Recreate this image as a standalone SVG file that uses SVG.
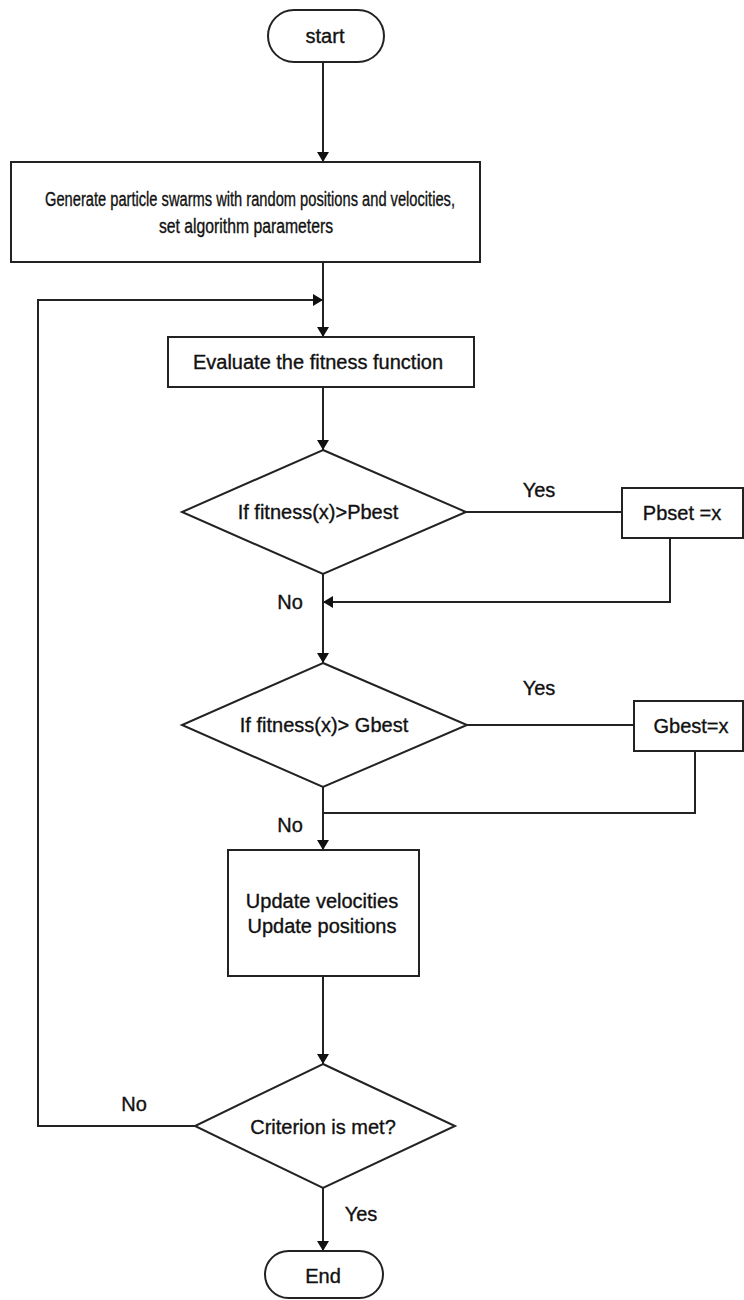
<svg xmlns="http://www.w3.org/2000/svg" width="744" height="1300" viewBox="0 0 744 1300">
<defs>
<marker id="arr" viewBox="0 0 10 12" refX="10" refY="6" markerWidth="10" markerHeight="12" markerUnits="userSpaceOnUse" orient="auto">
<path d="M0,0 L10,6 L0,12 z" fill="#111"/>
</marker>
<style>
.s{fill:#fff;stroke:#222;stroke-width:2}
.c{fill:none;stroke:#222;stroke-width:2}
.t{font-family:"Liberation Sans",Arial,sans-serif;font-size:20px;fill:#111;stroke:#111;stroke-width:0.35;text-anchor:middle;dominant-baseline:central}
</style>
</defs>
<rect width="744" height="1300" fill="#fff"/>
<g id="connectors">
<line class="c" x1="323" y1="62" x2="323" y2="162" marker-end="url(#arr)"/>
<line class="c" x1="323" y1="262" x2="323" y2="337" marker-end="url(#arr)"/>
<polyline class="c" points="195,1126 38,1126 38,300 323,300" marker-end="url(#arr)"/>
<line class="c" x1="323" y1="387" x2="323" y2="450" marker-end="url(#arr)"/>
<line class="c" x1="466" y1="512" x2="622" y2="512"/>
<polyline class="c" points="670,538 670,602 323,602" marker-end="url(#arr)"/>
<line class="c" x1="323" y1="574" x2="323" y2="663" marker-end="url(#arr)"/>
<line class="c" x1="467" y1="725" x2="634" y2="725"/>
<polyline class="c" points="695,751 695,813 323,813"/>
<line class="c" x1="323" y1="787" x2="323" y2="850" marker-end="url(#arr)"/>
<line class="c" x1="323" y1="976" x2="323" y2="1064" marker-end="url(#arr)"/>
<line class="c" x1="323" y1="1188" x2="323" y2="1251" marker-end="url(#arr)"/>
<text class="t" x="539" y="490">Yes</text>
<text class="t" x="290" y="602">No</text>
<text class="t" x="539" y="688">Yes</text>
<text class="t" x="290" y="825">No</text>
<text class="t" x="134" y="1104">No</text>
<text class="t" x="361" y="1214">Yes</text>
</g>
<g id="start">
<rect class="s" x="268" y="10" width="116" height="52" rx="26"/>
<text class="t" x="325" y="36">start</text>
</g>
<g id="init">
<rect class="s" x="11" y="162" width="469" height="100"/>
<text class="t" x="250" y="199" textLength="410" lengthAdjust="spacingAndGlyphs">Generate particle swarms with random positions and velocities,</text>
<text class="t" x="246" y="226" textLength="174" lengthAdjust="spacingAndGlyphs">set algorithm parameters</text>
</g>
<g id="evaluate">
<rect class="s" x="168" y="337" width="306" height="50"/>
<text class="t" x="318" y="362">Evaluate the fitness function</text>
</g>
<g id="pbest-check">
<polygon class="s" points="323,450 466,512 323,574 182,512"/>
<text class="t" x="318" y="512">If fitness(x)&gt;Pbest</text>
</g>
<g id="pbest-set">
<rect class="s" x="622" y="488" width="121" height="50"/>
<text class="t" x="682" y="513">Pbset =x</text>
</g>
<g id="gbest-check">
<polygon class="s" points="323,663 467,725 323,787 182,725"/>
<text class="t" x="324" y="725">If fitness(x)&gt; Gbest</text>
</g>
<g id="gbest-set">
<rect class="s" x="634" y="701" width="109" height="50"/>
<text class="t" x="691" y="726">Gbest=x</text>
</g>
<g id="update">
<rect class="s" x="228" y="850" width="191" height="126"/>
<text class="t" x="322" y="901">Update velocities</text>
<text class="t" x="322" y="926">Update positions</text>
</g>
<g id="criterion">
<polygon class="s" points="323,1064 455,1126 323,1188 195,1126"/>
<text class="t" x="323" y="1127">Criterion is met?</text>
</g>
<g id="end">
<rect class="s" x="265" y="1251" width="118" height="47" rx="23.5"/>
<text class="t" x="323" y="1276">End</text>
</g>
</svg>
